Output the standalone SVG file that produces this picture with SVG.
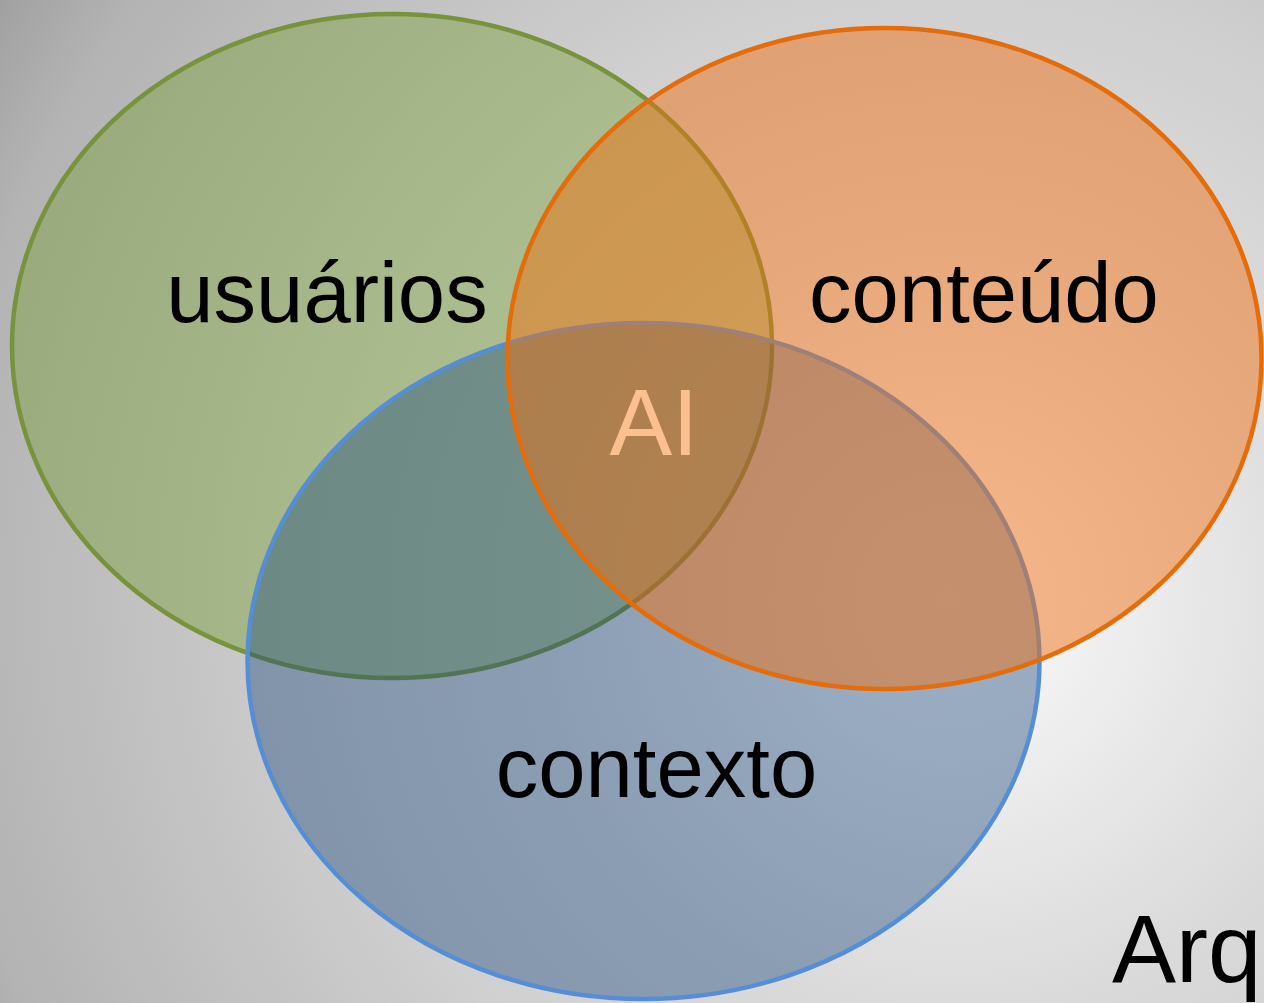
<svg xmlns="http://www.w3.org/2000/svg" width="1264" height="1003" viewBox="0 0 1264 1003">
  <defs>
    <radialGradient id="bg" gradientUnits="userSpaceOnUse" cx="950" cy="600" r="1150">
      <stop offset="0" stop-color="#f6f6f6"/>
      <stop offset="0.1" stop-color="#f2f2f2"/>
      <stop offset="0.36" stop-color="#dadada"/>
      <stop offset="0.54" stop-color="#cfcfcf"/>
      <stop offset="0.88" stop-color="#b3b3b3"/>
      <stop offset="0.98" stop-color="#a0a0a0"/>
      <stop offset="1" stop-color="#9e9e9e"/>
    </radialGradient>
  </defs>
  <style>
    .set { stroke-width: 4.5; }
    .label { font-family: "Liberation Sans", Arial, sans-serif; font-size: 85px; fill: #000000; text-anchor: middle; }
  </style>
  <rect x="0" y="0" width="1264" height="1003" fill="url(#bg)"/>
  <g id="usuarios">
    <ellipse class="set" cx="392" cy="346" rx="380" ry="332" fill="#769e32" fill-opacity="0.43" stroke="#77933c"/>
  </g>
  <g id="contexto">
    <ellipse class="set" cx="643.5" cy="661" rx="396" ry="338" fill="#1f497d" fill-opacity="0.42" stroke="#558ed5"/>
  </g>
  <g id="conteudo">
    <ellipse class="set" cx="884.5" cy="358.5" rx="377" ry="330.5" fill="#f06e0f" fill-opacity="0.48" stroke="#e46c0a"/>
  </g>
  <g id="labels">
    <text class="label" x="327" y="322">usuários</text>
    <text class="label" x="984" y="322">conteúdo</text>
    <text class="label" x="656.5" y="797">contexto</text>
    <text class="label" x="654" y="455" style="font-size:94px; fill:#fac090">AI</text>
    <text class="label" x="1112" y="982" style="font-size:96px; text-anchor:start">Arq</text>
  </g>
  <g id="connectors"/>
</svg>
